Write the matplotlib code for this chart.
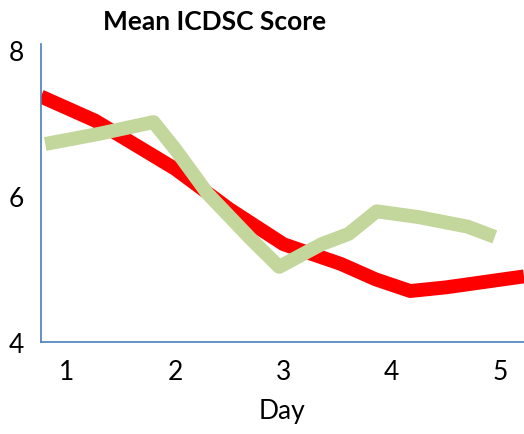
import matplotlib
matplotlib.use("Agg")
import matplotlib.pyplot as plt

plt.rcParams['font.family'] = ['Lato', 'DejaVu Sans']

red_day = [0.76, 1.26, 2.0, 2.5, 3.0, 3.53, 3.85, 4.17, 4.5, 5.22]
red_score = [7.36, 7.03, 6.37, 5.82, 5.34, 5.07, 4.86, 4.70, 4.75, 4.90]
green_day = [0.8, 1.3, 1.8, 2.0, 2.3, 2.7, 2.96, 3.35, 3.6, 3.86, 4.25, 4.7, 4.95]
green_score = [6.71, 6.85, 7.01, 6.64, 6.03, 5.41, 5.03, 5.34, 5.48, 5.79, 5.71, 5.58, 5.44]
xticks = [1, 2, 3, 4, 5]
yticks = [4, 6, 8]

fig = plt.figure(figsize=(5.24, 4.35), dpi=100)
ax = fig.add_axes([0.078, 0.211, 0.922, 0.686])
ax.plot(red_day, red_score, color="#ff0000", lw=10, solid_capstyle="butt")
ax.plot(green_day, green_score, color="#c3d69b", lw=10, solid_capstyle="butt")
ax.set_xlim(0.76, 5.22)
ax.set_ylim(4, 8.08)
ax.set_xticks(xticks)
ax.set_yticks(yticks)
ax.tick_params(length=0, labelsize=19, pad=12)
for s in ["top", "right"]:
    ax.spines[s].set_visible(False)
for s in ["left", "bottom"]:
    ax.spines[s].set_color("#4a7ebb")
    ax.spines[s].set_linewidth(1.2)
ax.set_xlabel("Day", fontsize=19, labelpad=10)
fig.text(0.41, 0.95, "Mean ICDSC Score", fontsize=19, fontweight="bold", ha="center", va="center")
fig.savefig("out.png", dpi=100)
